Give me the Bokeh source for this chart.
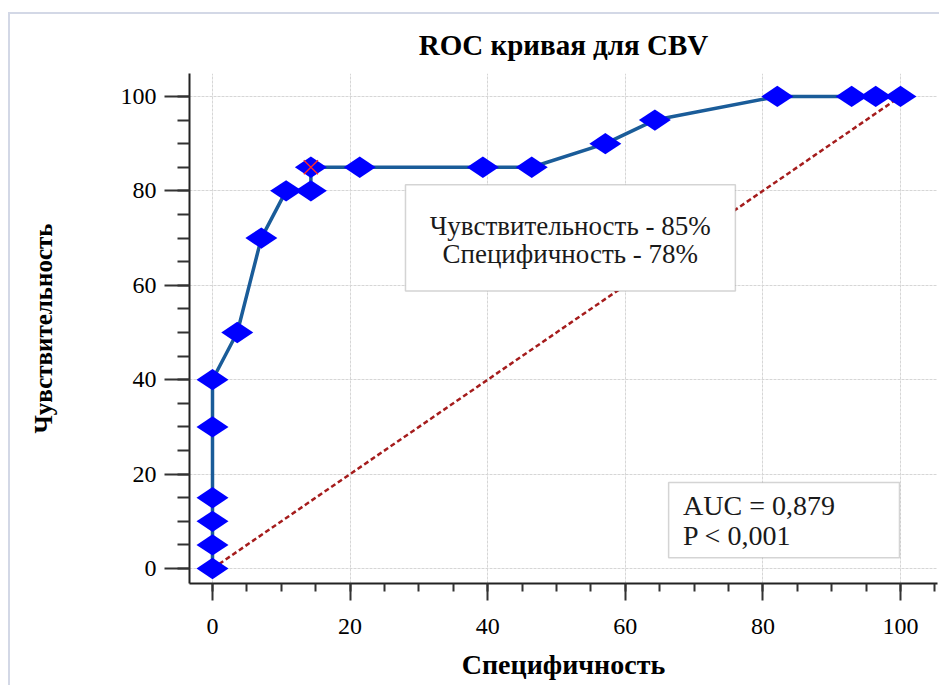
import math
from bokeh.plotting import figure
from bokeh.models import Range1d, SingleIntervalTicker, BoxAnnotation, Label, ColumnDataSource
from bokeh.embed import file_html
from bokeh.resources import INLINE

# ---- data ----
specificity = [0, 0, 0, 0, 0, 0, 3.6, 7.1, 10.7, 14.3, 14.3, 21.4, 39.3, 46.4, 57.1, 64.3, 82.1, 92.9, 96.4, 100]
sensitivity = [0, 5, 10, 15, 30, 40, 50, 70, 80, 80, 85, 85, 85, 85, 90, 95, 100, 100, 100, 100]
reference_x = [0, 100]
reference_y = [0, 100]
cutoff_x = [14.3]
cutoff_y = [85]
title_text = "ROC кривая для CBV"
x_label = "Специфичность"
y_label = "Чувствительность"
info_lines = ["Чувствительность - 85%", "Специфичность - 78%"]
stat_lines = ["AUC = 0,879", "P < 0,001"]

SERIF = "Liberation Serif"

p = figure(width=931, height=673, output_backend="svg", toolbar_location=None,
           x_range=Range1d(-3.343, 105.38), y_range=Range1d(-3.17, 104.86),
           min_border_left=179, min_border_right=4, min_border_top=58, min_border_bottom=104)
p.styles = {"margin-left": "10px", "margin-top": "14px",
            "box-shadow": "-2px -2px 0px 0px #d3d8e6"}
p.outline_line_color = None
p.background_fill_color = "white"
p.border_fill_color = "white"

p.title.text = title_text
p.title.align = "center"
p.title.text_font = SERIF
p.title.text_font_style = "bold"
p.title.text_font_size = "29px"
p.title.text_color = "black"
p.title.standoff = 25

p.xaxis.ticker = SingleIntervalTicker(interval=20, num_minor_ticks=4)
p.yaxis.ticker = SingleIntervalTicker(interval=20, num_minor_ticks=4)
for ax in (p.xaxis, p.yaxis):
    ax.axis_line_color = "#222222"
    ax.axis_line_width = 2
    ax.major_tick_line_color = "#333333"
    ax.major_tick_line_width = 2
    ax.minor_tick_line_color = "#333333"
    ax.minor_tick_line_width = 2
    ax.major_tick_in = 0
    ax.minor_tick_in = 0
    ax.major_label_text_font = SERIF
    ax.major_label_text_font_size = "24px"
    ax.major_label_text_color = "black"
    ax.axis_label_text_font = SERIF
    ax.axis_label_text_font_style = "bold"
    ax.axis_label_text_color = "black"

p.xaxis.major_tick_out = 17
p.xaxis.minor_tick_out = 8
p.xaxis.major_label_standoff = 18
p.xaxis.axis_label = x_label
p.xaxis.axis_label_text_font_size = "28px"
p.xaxis.axis_label_standoff = 12

p.yaxis.major_tick_out = 25
p.yaxis.minor_tick_out = 12
p.yaxis.major_label_standoff = 8
p.yaxis.axis_label = y_label
p.yaxis.axis_label_text_font_size = "25px"
p.yaxis.axis_label_standoff = 61

p.grid.grid_line_color = "#d6d6d6"
p.grid.grid_line_dash = "3 1"
p.grid.grid_line_width = 1

src = ColumnDataSource(dict(x=specificity, y=sensitivity))

p.line(reference_x, reference_y, line_color="#a51c1c", line_width=2.5, line_dash="5 3")
p.line("x", "y", source=src, line_color="#1a5c99", line_width=3.5)
p.scatter("x", "y", source=src, marker="diamond", size=32, angle=math.pi / 2,
          fill_color="#0000ff", line_color="#0000ff", line_width=0)
p.scatter(cutoff_x, cutoff_y, marker="x", size=20, line_color="#ff2a2a", line_width=1.4)

box1 = BoxAnnotation(left=28.05, right=76.0, top=81.3, bottom=58.8,
                     fill_color="white", fill_alpha=1.0, line_color="#707070", line_width=1.5)
p.add_layout(box1)
for txt, yv in zip(info_lines, [72.6, 66.6]):
    p.add_layout(Label(x=52.0, y=yv, text=txt, text_align="center", text_baseline="middle",
                       text_font=SERIF, text_font_size="27px", text_color="#1a1a1a"))

box2 = BoxAnnotation(left=66.3, right=99.85, top=18.2, bottom=2.3,
                     fill_color="white", fill_alpha=1.0, line_color="#707070", line_width=1.5)
p.add_layout(box2)
for txt, yv in zip(stat_lines, [13.3, 7.0]):
    p.add_layout(Label(x=68.4, y=yv, text=txt, text_align="left", text_baseline="middle",
                       text_font=SERIF, text_font_size="28px", text_color="#1a1a1a"))

open("out.html", "w").write(file_html(p, INLINE))
